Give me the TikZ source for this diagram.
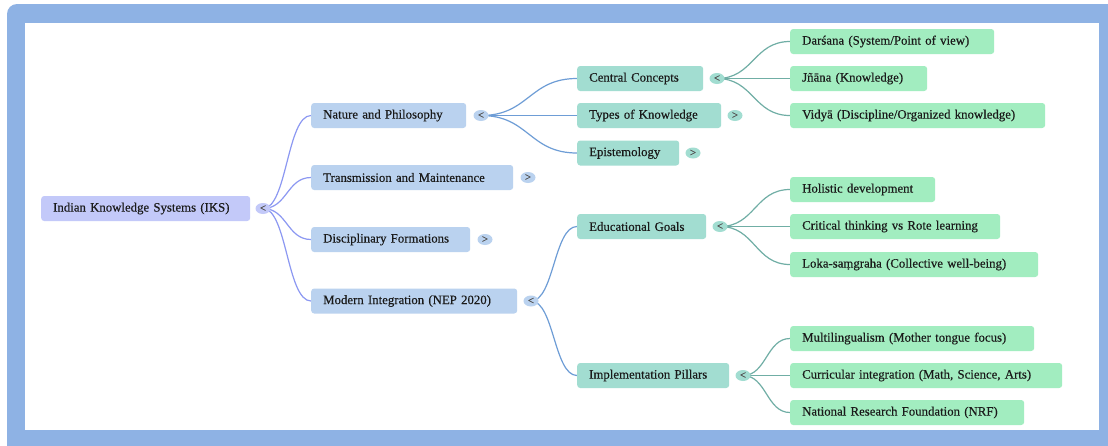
\documentclass[tikz,border=0pt]{standalone}
\usepackage{fontspec}
\setmainfont{Liberation Serif}[FakeBold=0.4]
\usetikzlibrary{shapes.geometric,backgrounds,calc}
\definecolor{frameblue}{HTML}{8EB2E4}
\definecolor{rootfill}{HTML}{C3C9F9}
\definecolor{lvAfill}{HTML}{BAD2EF}
\definecolor{lvBfill}{HTML}{A2DDD1}
\definecolor{lvCfill}{HTML}{A2EDC0}
\definecolor{linkA}{HTML}{8C98F2}
\definecolor{linkB}{HTML}{6E9DD6}
\definecolor{linkC}{HTML}{70AEA5}
\definecolor{txt}{HTML}{1A1A1A}
\definecolor{tog}{HTML}{555555}
\newcommand\mmlink[3]{\draw[#3] let \p1=(#1.center), \p2=(#2.west) in (\p1) .. controls ({(\x1+\x2)/2},\y1) and ({(\x1+\x2)/2},\y2) .. (\p2);}
\tikzset{
  mmbox/.style={rectangle, rounded corners=3pt, anchor=west, minimum height=25pt,
    inner xsep=12pt, inner ysep=0pt, align=left, text=txt, font=\fontsize{12.8}{15}\selectfont},
  rootbox/.style={mmbox, fill=rootfill},
  boxA/.style={mmbox, fill=lvAfill},
  boxB/.style={mmbox, fill=lvBfill},
  boxC/.style={mmbox, fill=lvCfill},
  tgl/.style={ellipse, minimum width=15pt, minimum height=11pt, inner sep=0pt,
    text=tog, font=\fontsize{11}{11}\selectfont},
  lnA/.style={draw=linkA, line width=1.2pt},
  lnB/.style={draw=linkB, line width=1.2pt},
  lnC/.style={draw=linkC, line width=1.2pt},
}
\begin{document}
\begin{tikzpicture}[x=1pt,y=-1pt]
\useasboundingbox (0,0) rectangle (1108,445);
\begin{pgfonlayer}{background}
  \clip (0,0) rectangle (1108,445);
  \fill[white] (0,0) rectangle (1108,445);
  \fill[frameblue, rounded corners=10pt] (7,4) rectangle (1125,460);
  \fill[white] (25,23) rectangle (1099,430);
\end{pgfonlayer}

% root
\node[rootbox, text width=185pt] (root) at (41,208.5) {Indian Knowledge Systems (IKS)};
\node[tgl, fill=rootfill] (troot) at (263,208.5) {<};

% level 1
\node[boxA, text width=131pt] (nat) at (311,115.5) {Nature and Philosophy};
\node[tgl, fill=lvAfill] (tnat) at (481,115.5) {<};
\node[boxA, text width=178pt] (tra) at (311,177.5) {Transmission and Maintenance};
\node[tgl, fill=lvAfill] (ttra) at (528,177.5) {>};
\node[boxA, text width=135pt] (dis) at (311,239.5) {Disciplinary Formations};
\node[tgl, fill=lvAfill] (tdis) at (485,239.5) {>};
\node[boxA, text width=182pt] (mod) at (311,301) {Modern Integration (NEP 2020)};
\node[tgl, fill=lvAfill] (tmod) at (531,301) {<};

% level 2
\node[boxB, text width=102pt] (cen) at (577,78.5) {Central Concepts};
\node[tgl, fill=lvBfill] (tcen) at (717,78.5) {<};
\node[boxB, text width=120pt] (typ) at (577,115.5) {Types of Knowledge};
\node[tgl, fill=lvBfill] (ttyp) at (735,115.5) {>};
\node[boxB, text width=78pt] (epi) at (577,153) {Epistemology};
\node[tgl, fill=lvBfill] (tepi) at (693,153) {>};
\node[boxB, text width=105pt] (edu) at (577,226.5) {Educational Goals};
\node[tgl, fill=lvBfill] (tedu) at (720,226.5) {<};
\node[boxB, text width=128pt] (imp) at (577,375.5) {Implementation Pillars};
\node[tgl, fill=lvBfill] (timp) at (743,375.5) {<};

% level 3
\node[boxC, text width=180pt] (dar) at (790,41.5) {Darśana (System/Point of view)};
\node[boxC, text width=113pt] (jna) at (790,78.5) {Jñāna (Knowledge)};
\node[boxC, text width=231pt] (vid) at (790,115.5) {Vidyā (Discipline/Organized knowledge)};
\node[boxC, text width=121pt] (hol) at (790,189.5) {Holistic development};
\node[boxC, text width=186pt] (cri) at (790,226.5) {Critical thinking vs Rote learning};
\node[boxC, text width=224pt] (lok) at (790,264.5) {Loka-saṃgraha (Collective well-being)};
\node[boxC, text width=220pt] (mul) at (790,338.5) {Multilingualism (Mother tongue focus)};
\node[boxC, text width=248pt] (cur) at (790,375.5) {Curricular integration (Math, Science, Arts)};
\node[boxC, text width=210pt] (nrf) at (790,412.5) {National Research Foundation (NRF)};

\begin{pgfonlayer}{background}
  \mmlink{troot}{nat}{lnA}
  \mmlink{troot}{tra}{lnA}
  \mmlink{troot}{dis}{lnA}
  \mmlink{troot}{mod}{lnA}
  \mmlink{tnat}{cen}{lnB}
  \mmlink{tnat}{typ}{lnB}
  \mmlink{tnat}{epi}{lnB}
  \mmlink{tmod}{edu}{lnB}
  \mmlink{tmod}{imp}{lnB}
  \mmlink{tcen}{dar}{lnC}
  \mmlink{tcen}{jna}{lnC}
  \mmlink{tcen}{vid}{lnC}
  \mmlink{tedu}{hol}{lnC}
  \mmlink{tedu}{cri}{lnC}
  \mmlink{tedu}{lok}{lnC}
  \mmlink{timp}{mul}{lnC}
  \mmlink{timp}{cur}{lnC}
  \mmlink{timp}{nrf}{lnC}
\end{pgfonlayer}
\end{tikzpicture}
\end{document}
